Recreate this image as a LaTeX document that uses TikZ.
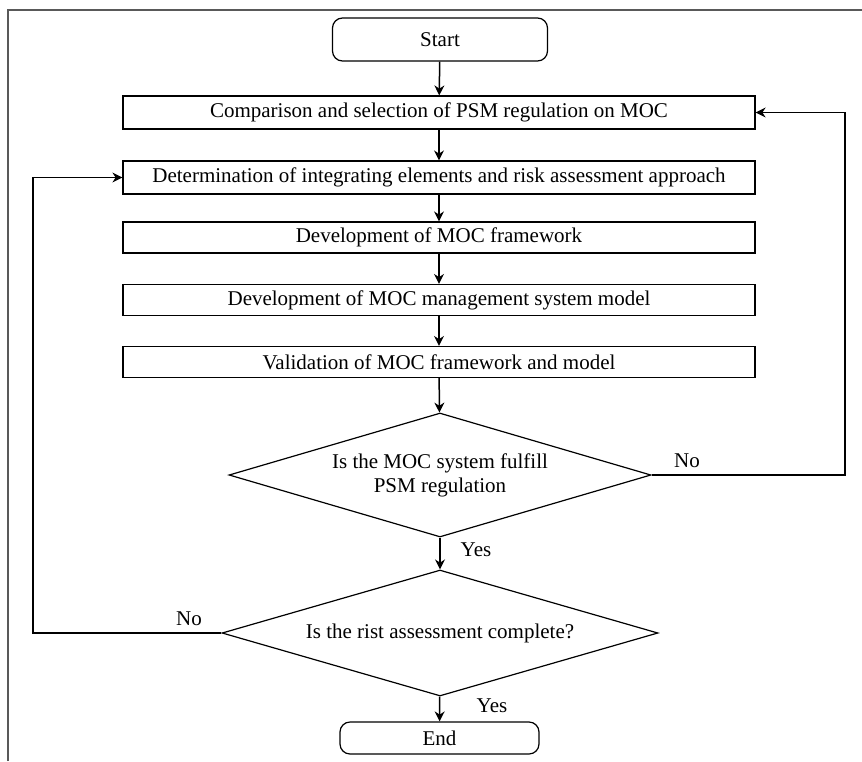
\documentclass[tikz,border=0pt]{standalone}
\usepackage{fontspec}
\setmainfont{Liberation Serif}
\usetikzlibrary{positioning}
\usetikzlibrary{shapes}
\usetikzlibrary{arrows.meta}

\tikzset{
  stepbox/.style={rectangle, draw, line width=1.2pt, minimum width=632, minimum height=31, inner sep=0pt},
  endbox/.style={rectangle, rounded corners=10pt, draw, line width=1.2pt, inner sep=0pt},
  testbox/.style={diamond, draw, line width=1.2pt, inner sep=0pt, align=center},
  flow/.style={->, line width=1.5pt},
}

\begin{document}
\begin{tikzpicture}[x=1pt, y=-1pt, font=\fontsize{21}{24}\selectfont, >={Stealth[length=10pt,width=10pt]}]
  \useasboundingbox (0,0) rectangle (862,761);
  % frame
  \draw[line width=1.8pt, black!65] (8,761) -- (8,10) -- (862,10);

  \node[endbox, minimum width=215, minimum height=43] (start) at (440,39.5) {Start};
  \node[stepbox, minimum height=33] (b1) at (439,112.5) {Comparison and selection of PSM regulation on MOC};
  \node[stepbox, minimum height=33] (b2) at (439,177.5) {Determination of integrating elements and risk assessment approach};
  \node[stepbox] (b3) at (439,237.5) {Development of MOC framework};
  \node[stepbox] (b4) at (439,300) {Development of MOC management system model};
  \node[stepbox] (b5) at (439,362) {Validation of MOC framework and model};
  \node[testbox, aspect=3.4, minimum width=422, minimum height=124] (d1) at (440,475) {Is the MOC system fulfill\\PSM regulation};
  \node[testbox, aspect=3.46, minimum width=436, minimum height=126] (d2) at (440,633) {Is the rist assessment complete?};
  \node[endbox, minimum width=199, minimum height=32] (end) at (439.5,738) {End};

  \coordinate (rloop) at (845,475);
  \coordinate (lloop) at (33,633);

  \draw[flow] (start) -- (b1);
  \draw[flow] (b1) -- (b2);
  \draw[flow] (b2) -- (b3);
  \draw[flow] (b3) -- (b4);
  \draw[flow] (b4) -- (b5);
  \draw[flow] (b5) -- (d1);
  \draw[flow] (d1) -- (d2);
  \draw[flow] (d2) -- (end);
  \draw[flow] (d1.east) -- (rloop) |- (b1.east);
  \draw[flow] (d2.west) -- (lloop) |- (b2.west);

  \node (no1) at (687,461) {No};
  \node (yes1) at (476,550) {Yes};
  \node (no2) at (189,619) {No};
  \node (yes2) at (492,706) {Yes};
\end{tikzpicture}
\end{document}
